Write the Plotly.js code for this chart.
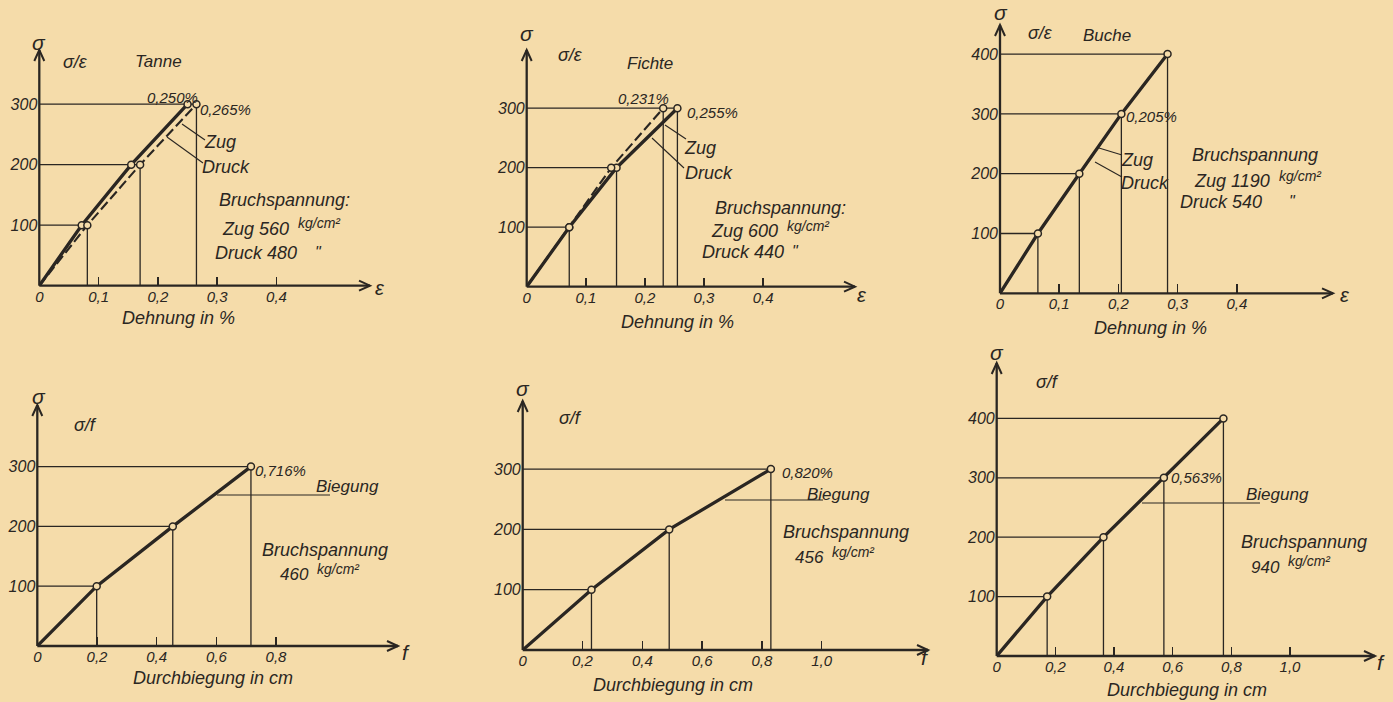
<!DOCTYPE html>
<html><head><meta charset="utf-8">
<script src="https://cdn.plot.ly/plotly-3.0.1.min.js"></script>
<style>html,body{margin:0;padding:0;background:#f5dcaa;} #chart{width:1393px;height:702px;}</style>
</head><body><div id="chart"></div>
<script>
// ---------- DATA ----------
const tanneZugStrain   = [0, 0.0715, 0.155, 0.250];
const tanneZugStress   = [0, 100, 200, 300];
const tanneDruckStrain = [0, 0.081, 0.170, 0.265];
const tanneDruckStress = [0, 100, 200, 300];

const fichteZugStrain   = [0, 0.072, 0.143, 0.231];
const fichteZugStress   = [0, 100, 200, 300];
const fichteDruckStrain = [0, 0.072, 0.152, 0.255];
const fichteDruckStress = [0, 100, 200, 300];

const bucheStrain = [0, 0.064, 0.134, 0.205, 0.283];
const bucheStress = [0, 100, 200, 300, 400];

const tanneBiegDefl   = [0, 0.199, 0.454, 0.716];
const tanneBiegStress = [0, 100, 200, 300];
const fichteBiegDefl   = [0, 0.23, 0.49, 0.83];
const fichteBiegStress = [0, 100, 200, 300];
const bucheBiegDefl   = [0, 0.172, 0.364, 0.57, 0.773];
const bucheBiegStress = [0, 100, 200, 300, 400];

const strainTickVals = [0, 0.1, 0.2, 0.3, 0.4];
const strainTickText = ['0', '0,1', '0,2', '0,3', '0,4'];
const deflTickVals8  = [0, 0.2, 0.4, 0.6, 0.8];
const deflTickText8  = ['0', '0,2', '0,4', '0,6', '0,8'];
const deflTickVals10 = [0, 0.2, 0.4, 0.6, 0.8, 1.0];
const deflTickText10 = ['0', '0,2', '0,4', '0,6', '0,8', '1,0'];
const stressTicks3 = [100, 200, 300];
const stressTicks4 = [100, 200, 300, 400];

// ---------- STYLE / LAYOUT ----------
const W = 1393, H = 702;
const INK = '#2a2622';
const BG = '#f5dcaa';
const FONT = 'Liberation Sans, DejaVu Sans, sans-serif';

const geo = [
  {ox: 39.3,  oy: 285.7, sx: 593,   sy: 0.605, tx: 370,  ty: 50},
  {ox: 526.7, oy: 286.7, sx: 591,   sy: 0.595, tx: 855,  ty: 50},
  {ox: 1000,  oy: 293.3, sx: 592,   sy: 0.598, tx: 1333, ty: 25},
  {ox: 37.3,  oy: 646,   sx: 298.4, sy: 0.598, tx: 398,  ty: 405},
  {ox: 522.7, oy: 650,   sx: 299,   sy: 0.603, tx: 928,  ty: 401},
  {ox: 996.7, oy: 656,   sx: 293.3, sy: 0.594, tx: 1375, ty: 363}
];

const panels = [
  {series: [{x: tanneZugStrain, y: tanneZugStress, dash: 'solid'}, {x: tanneDruckStrain, y: tanneDruckStress, dash: '10px,4px'}],
   vert: 'last', tv: strainTickVals, tt: strainTickText, yv: stressTicks3},
  {series: [{x: fichteDruckStrain, y: fichteDruckStress, dash: 'solid'}, {x: fichteZugStrain, y: fichteZugStress, dash: '10px,4px'}],
   vert: 'lastPlusTop', tv: strainTickVals, tt: strainTickText, yv: stressTicks3},
  {series: [{x: bucheStrain, y: bucheStress, dash: 'solid'}], vert: 'all', tv: strainTickVals, tt: strainTickText, yv: stressTicks4},
  {series: [{x: tanneBiegDefl, y: tanneBiegStress, dash: 'solid'}], vert: 'all', tv: deflTickVals8, tt: deflTickText8, yv: stressTicks3},
  {series: [{x: fichteBiegDefl, y: fichteBiegStress, dash: 'solid'}], vert: 'all', tv: deflTickVals10, tt: deflTickText10, yv: stressTicks3},
  {series: [{x: bucheBiegDefl, y: bucheBiegStress, dash: 'solid'}], vert: 'all', tv: deflTickVals10, tt: deflTickText10, yv: stressTicks4}
];

const traces = [];
const shapes = [];
const layout = {
  width: W, height: H, margin: {l: 0, r: 0, t: 0, b: 0},
  paper_bgcolor: BG, plot_bgcolor: 'rgba(0,0,0,0)', showlegend: false,
  annotations: [], shapes: shapes
};
const PX = x => x / W, PY = y => 1 - y / H;
function L(x0, y0, x1, y1, w) {
  return {type: 'line', xref: 'paper', yref: 'paper', x0: PX(x0), y0: PY(y0), x1: PX(x1), y1: PY(y1),
    line: {color: INK, width: w || 1.1}};
}
function Path(pts, w) {
  const d = pts.map((p, k) => (k ? 'L' : 'M') + PX(p[0]).toFixed(5) + ',' + PY(p[1]).toFixed(5)).join(' ');
  return {type: 'path', xref: 'paper', yref: 'paper', path: d, line: {color: INK, width: w || 2}};
}

panels.forEach((p, i) => {
  const n = i + 1, sfx = n === 1 ? '' : String(n);
  const g = geo[i];
  const xr = [0, (g.tx - g.ox) / g.sx], yr = [0, (g.oy - g.ty) / g.sy];
  layout['xaxis' + sfx] = {
    domain: [g.ox / W, g.tx / W], range: xr, anchor: 'y' + sfx,
    showgrid: false, zeroline: false, showline: false,
    tickmode: 'array', tickvals: p.tv, ticktext: p.tt,
    ticks: 'inside', ticklen: 9, tickwidth: 1.5, tickcolor: INK,
    tickfont: {family: FONT, size: 15, color: INK, style: 'italic'}
  };
  layout['yaxis' + sfx] = {
    domain: [1 - g.oy / H, 1 - g.ty / H], range: yr, anchor: 'x' + sfx,
    showgrid: false, zeroline: false, showline: false,
    tickmode: 'array', tickvals: p.yv, ticktext: p.yv.map(String), ticks: '',
    ticklabelstandoff: 1,
    tickfont: {family: FONT, size: 16, color: INK, style: 'italic'}
  };
  // guide lines computed from the data
  const gx = [], gy = [];
  const levels = p.series[0].y;
  for (let k = 1; k < levels.length; k++) {
    const xm = Math.max(...p.series.map(s => s.x[k]));
    gx.push(0, xm, null); gy.push(levels[k], levels[k], null);
  }
  const vx = [];
  if (p.vert === 'all' || p.vert === 'last') {
    const s = p.vert === 'all' ? p.series[0] : (p.series.reduce((a, b) => (b.x[b.x.length-1] > a.x[a.x.length-1] ? b : a)));
    for (let k = 1; k < s.x.length; k++) vx.push([s.x[k], s.y[k]]);
  } else {
    const s = p.series[0];
    for (let k = 1; k < s.x.length; k++) vx.push([s.x[k], s.y[k]]);
    const o = p.series[1];
    vx.push([o.x[o.x.length - 1], o.y[o.y.length - 1]]);
  }
  vx.forEach(([x, y]) => { gx.push(x, x, null); gy.push(0, y, null); });
  traces.push({x: gx, y: gy, xaxis: 'x' + sfx, yaxis: 'y' + sfx, mode: 'lines',
    line: {color: INK, width: 1.3}, hoverinfo: 'skip', cliponaxis: false});
  p.series.forEach(s => {
    traces.push({x: s.x, y: s.y, xaxis: 'x' + sfx, yaxis: 'y' + sfx, mode: 'lines',
      line: {color: INK, width: s.dash === 'solid' ? 3.3 : 2.1, dash: s.dash}, cliponaxis: false});
  });
  p.series.forEach(s => {
    traces.push({x: s.x.slice(1), y: s.y.slice(1), xaxis: 'x' + sfx, yaxis: 'y' + sfx, mode: 'markers',
      marker: {symbol: 'circle', size: 7, color: BG, line: {color: INK, width: 1.5}}, cliponaxis: false});
  });
  // axes with open arrowheads
  shapes.push(L(g.ox, g.oy, g.tx, g.oy, 2.3));
  shapes.push(L(g.ox, g.oy, g.ox, g.ty, 2.3));
  shapes.push(Path([[g.tx - 11, g.oy - 5], [g.tx, g.oy], [g.tx - 11, g.oy + 5]], 2));
  shapes.push(Path([[g.ox - 5, g.ty + 11], [g.ox, g.ty], [g.ox + 5, g.ty + 11]], 2));
});

function T(text, px, py, size, extra) {
  return Object.assign({xref: 'paper', yref: 'paper', x: PX(px), y: PY(py), text: text, showarrow: false,
    xanchor: 'center', yanchor: 'middle',
    font: {family: FONT, size: size || 18, color: INK, style: 'italic'}}, extra || {});
}
const unit = 'kg/cm²';
const LEFT = {xanchor: 'left'}, RIGHT = {xanchor: 'right'};
const texts = [
  // Tanne
  T('σ', 39, 42, 21), T('σ/ε', 75, 62, 18), T('Tanne', 158, 62, 17),
  T('0,250%', 172, 97, 15), T('0,265%', 225, 110, 15),
  T('Zug', 220, 142, 18), T('Druck', 226, 167, 18),
  T('Bruchspannung:', 284, 200, 18),
  T('Zug 560', 291, 229, 18, RIGHT), T(unit, 296, 223, 14, LEFT),
  T('Druck 480', 213, 253, 18, LEFT), T('"', 318, 252, 16),
  T('Dehnung in %', 178, 318, 18), T('ε', 380, 288, 20),
  // Fichte
  T('σ', 527, 33, 21), T('σ/ε', 570, 55, 18), T('Fichte', 650, 63, 17),
  T('0,231%', 643, 98, 15), T('0,255%', 712, 112, 15),
  T('Zug', 700, 148, 18), T('Druck', 709, 173, 18),
  T('Bruchspannung:', 780, 208, 18),
  T('Zug 600', 780, 231, 18, RIGHT), T(unit, 785, 226, 14, LEFT),
  T('Druck 440', 700, 252, 18, LEFT), T('"', 795, 251, 16),
  T('Dehnung in %', 677, 322, 18), T('ε', 862, 295, 20),
  // Buche
  T('σ', 1001, 13, 21), T('σ/ε', 1040, 33, 18), T('Buche', 1107, 35, 17),
  T('0,205%', 1151, 117, 15),
  T('Zug', 1137, 160, 18), T('Druck', 1145, 183, 18),
  T('Bruchspannung', 1255, 155, 18),
  T('Zug 1190', 1272, 181, 18, RIGHT), T(unit, 1277, 176, 14, LEFT),
  T('Druck 540', 1178, 202, 18, LEFT), T('"', 1292, 201, 16),
  T('Dehnung in %', 1150, 328, 18), T('ε', 1345, 295, 20),
  // Tanne bending
  T('σ', 39, 396, 21), T('σ/f', 85, 425, 18),
  T('0,716%', 280, 470, 15), T('Biegung', 347, 486, 17),
  T('Bruchspannung', 325, 550, 18),
  T('460', 311, 574, 17, RIGHT), T(unit, 315, 569, 14, LEFT),
  T('Durchbiegung in cm', 213, 678, 18), T('f', 406, 652, 21),
  // Fichte bending
  T('σ', 523, 388, 21), T('σ/f', 570, 418, 18),
  T('0,820%', 807, 472, 15), T('Biegung', 838, 494, 17),
  T('Bruchspannung', 846, 532, 18),
  T('456', 826, 557, 17, RIGHT), T(unit, 830, 552, 14, LEFT),
  T('Durchbiegung in cm', 673, 685, 18), T('f', 925, 657, 21),
  // Buche bending
  T('σ', 997, 352, 21), T('σ/f', 1047, 382, 18),
  T('0,563%', 1196, 477, 15), T('Biegung', 1277, 494, 17),
  T('Bruchspannung', 1304, 542, 18),
  T('940', 1282, 567, 17, RIGHT), T(unit, 1286, 561, 14, LEFT),
  T('Durchbiegung in cm', 1187, 690, 18), T('f', 1381, 662, 21)
];
layout.annotations = texts;
shapes.push(
  L(182, 124, 205, 140), L(167, 137, 203, 163),
  L(665, 125, 686, 139), L(652, 138, 684, 168),
  L(1099, 148, 1122, 155), L(1095, 162, 1122, 177),
  L(217, 495, 330, 495),
  L(725, 500, 823, 500),
  L(1142, 503, 1260, 503)
);

Plotly.newPlot('chart', traces, layout, {staticPlot: true, displayModeBar: false});
</script>
</body></html>
